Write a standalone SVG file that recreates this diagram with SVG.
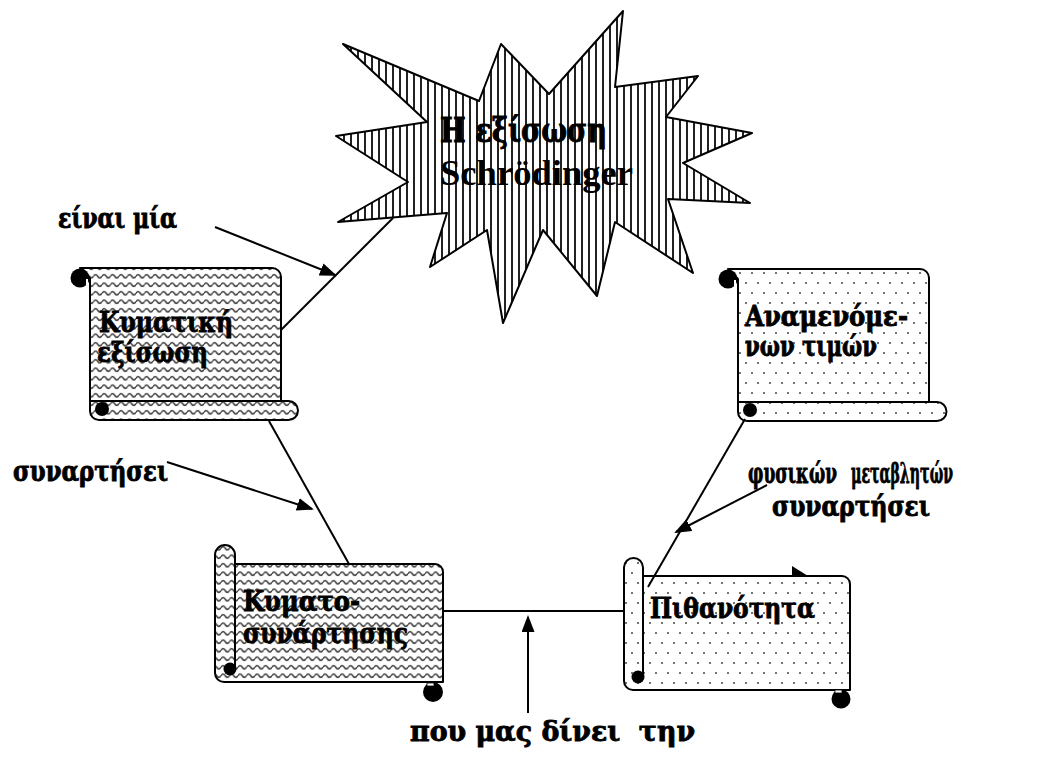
<svg xmlns="http://www.w3.org/2000/svg" width="1059" height="761" viewBox="0 0 1059 761">
<style>
.edge{stroke:#000;stroke-width:2;stroke-linejoin:round}
.roll{fill:#000}
.lbl{font-family:"DejaVu Serif","Liberation Serif",serif;font-weight:bold;font-size:28px;fill:#000;stroke:#000;stroke-width:0.9}
.big{font-size:33px}
.lat{font-family:"Liberation Serif","Times New Roman",serif;font-weight:bold;font-size:36px;fill:#000}
.conn{stroke:#000;stroke-width:2;fill:none}
</style>
<defs>
<pattern id="stripes" patternUnits="userSpaceOnUse" width="7" height="7">
<rect width="7" height="7" fill="#fff"/>
<rect x="0" y="0" width="2" height="7" fill="#222"/>
</pattern>
<pattern id="wave" patternUnits="userSpaceOnUse" width="8.5" height="8.5">
<rect width="8.5" height="8.5" fill="#fff"/>
<path d="M0,4.25 Q2.125,0.8 4.25,4.25 T8.5,4.25" fill="none" stroke="#333" stroke-width="1.4"/>
</pattern>
<pattern id="dots" patternUnits="userSpaceOnUse" width="12" height="20">
<rect width="12" height="20" fill="#fff"/>
<circle cx="2" cy="3" r="1" fill="#444"/>
<circle cx="8" cy="13" r="1" fill="#444"/>
</pattern>
<marker id="arr" markerUnits="userSpaceOnUse" markerWidth="18" markerHeight="14" refX="15" refY="6.5" orient="auto">
<path d="M0,0 L17,6.5 L0,13 Z" fill="#000"/>
</marker>
</defs>
<rect width="1059" height="761" fill="#fff"/>

<g id="stray-arrowhead">
<polygon points="792,566 808,576 792,586" fill="#000"/>
</g>

<g id="node-schrodinger">
<polygon class="edge" fill="url(#stripes)" points="343,44 479,101 501,44 549,94 623,11 615,87 698,76 666,117 752,133 683,163 750,203 668,199 693,273 615,222 597,296 543,230 503,323 487,230 430,267 447,213 338,222 408,182 336,136 427,122"/>
<text class="lbl big" x="440" y="142" textLength="167" lengthAdjust="spacingAndGlyphs">Η εξίσωση</text>
<text class="lat" x="440" y="185" textLength="193" lengthAdjust="spacingAndGlyphs">Schrödinger</text>
</g>

<g id="node-kymatiki">
<path class="edge" fill="url(#wave)" d="M80,268 H272 A9,9 0 0 1 281,277 V402 H90 V278 Z"/>
<path class="edge" fill="url(#wave)" d="M90,401 H288.5 A9.5,9.5 0 0 1 288.5,420 H99 A9,9 0 0 1 90,411 Z"/>
<circle class="roll" cx="80" cy="278" r="9.5"/>
<rect x="86" y="279" width="2" height="6" fill="#fff"/>
<circle class="roll" cx="102" cy="409" r="7"/>
<text class="lbl" x="99" y="332" textLength="134" lengthAdjust="spacingAndGlyphs">Κυματική</text>
<text class="lbl" x="97" y="362" textLength="111" lengthAdjust="spacingAndGlyphs">εξίσωση</text>
</g>

<g id="node-anamenomenon">
<path class="edge" fill="url(#dots)" d="M728,269 H920 A9,9 0 0 1 929,278 V403 H738 V279 Z"/>
<path class="edge" fill="url(#dots)" d="M738,402 H937 A9.5,9.5 0 0 1 937,421 H747 A9,9 0 0 1 738,412 Z"/>
<circle class="roll" cx="728" cy="279" r="9.5"/>
<rect x="734" y="280" width="2" height="6" fill="#fff"/>
<circle class="roll" cx="750" cy="410" r="7"/>
<text class="lbl" x="745" y="326" font-size="26" textLength="163" lengthAdjust="spacingAndGlyphs">Αναμενόμε-</text>
<text class="lbl" x="745" y="356" font-size="26" textLength="132" lengthAdjust="spacingAndGlyphs">νων τιμών</text>
</g>

<g id="node-kymatosynartisis">
<path class="edge" fill="url(#wave)" d="M225,564 H435 A8,8 0 0 1 443,572 V682 H224 A9,9 0 0 1 215,673 V564 Z"/>
<path class="edge" fill="url(#wave)" d="M215,673 V555 A10,10 0 0 1 235,555 V669"/>
<circle class="roll" cx="230" cy="669" r="6.5"/>
<circle class="roll" cx="433" cy="692" r="10"/>
<rect x="427" y="683" width="7" height="3" fill="#fff" stroke="#000" stroke-width="0.8"/>
<text class="lbl" x="243" y="611" textLength="117" lengthAdjust="spacingAndGlyphs">Κυματο-</text>
<text class="lbl" x="243" y="643" textLength="165" lengthAdjust="spacingAndGlyphs">συνάρτησης</text>
</g>

<g id="node-pithanotita">
<path class="edge" fill="url(#dots)" d="M634,576 H842 A8,8 0 0 1 850,584 V690 H633 A9,9 0 0 1 624,681 V576 Z"/>
<path class="edge" fill="url(#dots)" d="M624,681 V567.5 A9.5,9.5 0 0 1 643,567.5 V677"/>
<circle class="roll" cx="638" cy="677" r="6.5"/>
<circle class="roll" cx="841" cy="699" r="9.5"/>
<rect x="835" y="690" width="7" height="3" fill="#fff" stroke="#000" stroke-width="0.8"/>
<text class="lbl" x="650" y="618" textLength="165" lengthAdjust="spacingAndGlyphs">Πιθανότητα</text>
</g>

<g id="connectors">
<line class="conn" x1="281" y1="330" x2="393" y2="218"/>
<line class="conn" x1="269" y1="421" x2="349" y2="564"/>
<line class="conn" x1="443" y1="611" x2="624" y2="611"/>
<line class="conn" x1="745" y1="419" x2="648" y2="587"/>
<line class="conn" x1="215" y1="227" x2="335" y2="275" marker-end="url(#arr)"/>
<line class="conn" x1="167" y1="462" x2="312" y2="509" marker-end="url(#arr)"/>
<line class="conn" x1="528" y1="713" x2="528" y2="617" marker-end="url(#arr)"/>
<line class="conn" x1="767" y1="485" x2="676" y2="532" marker-end="url(#arr)"/>
</g>

<g id="labels">
<text class="lbl" x="748" y="483" font-size="26" textLength="89" lengthAdjust="spacingAndGlyphs">φυσικών</text>
<text class="lbl" x="851" y="483" font-size="26" textLength="102" lengthAdjust="spacingAndGlyphs">μεταβλητών</text>
<text class="lbl" x="58" y="228" textLength="119" lengthAdjust="spacingAndGlyphs">είναι μία</text>
<text class="lbl" x="13" y="481" textLength="155" lengthAdjust="spacingAndGlyphs">συναρτήσει</text>
<text class="lbl" x="772" y="516" textLength="158" lengthAdjust="spacingAndGlyphs">συναρτήσει</text>
<text class="lbl" x="410" y="741" textLength="285" lengthAdjust="spacingAndGlyphs" xml:space="preserve">που μας δίνει  την</text>
</g>
</svg>
